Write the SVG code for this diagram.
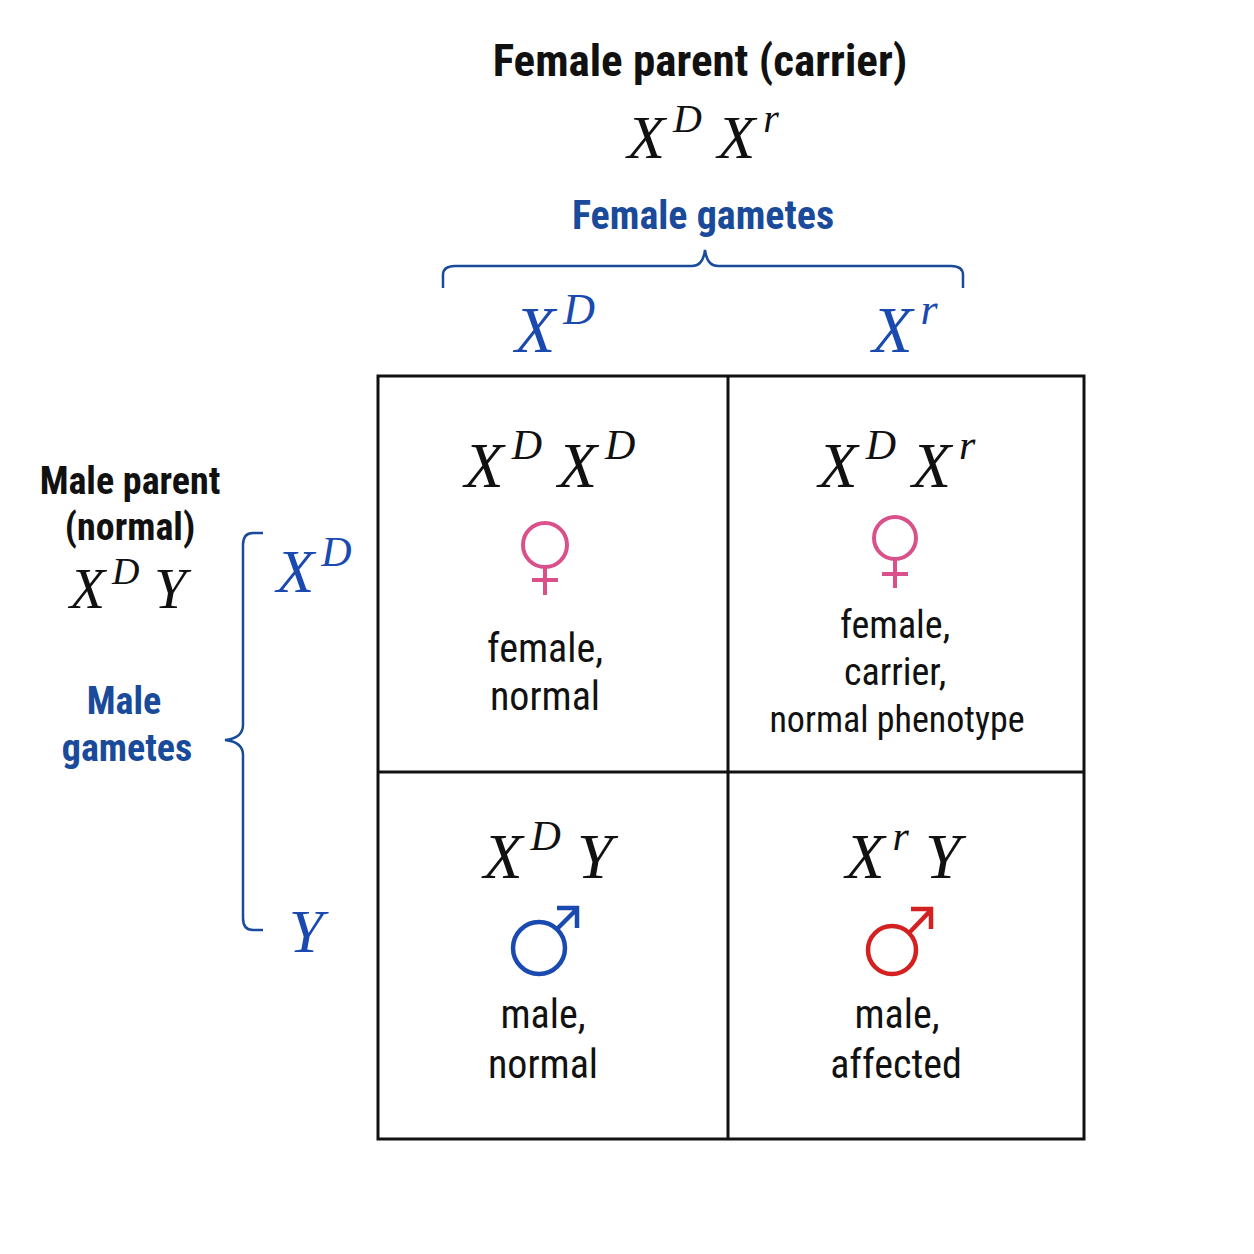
<svg xmlns="http://www.w3.org/2000/svg" width="1254" height="1254" viewBox="0 0 1254 1254">
<style>
.t{font-family:"Liberation Sans Narrow","Roboto Condensed","Liberation Sans",sans-serif;text-anchor:middle;fill:#111}
.b{font-weight:bold}
.blue{fill:#1a4a9a}
.g{font-family:"Liberation Serif",serif;font-style:italic;text-anchor:middle;fill:#111}
.gb{fill:#1a4ab0}
.line{fill:none;stroke:#111;stroke-width:3}
.br{fill:none;stroke:#1a4a9a;stroke-width:2.5}
</style>
<rect width="1254" height="1254" fill="#fff"/>
<g id="female-parent">
<text class="t b" x="700" y="76" font-size="45">Female parent (carrier)</text>
<text class="g" x="703" y="158" font-size="62">X<tspan dx="8" dy="-26" font-size="40">D</tspan><tspan dy="26"> X</tspan><tspan dx="8" dy="-26" font-size="40">r</tspan></text>
</g>
<g id="female-gametes">
<text class="t b blue" x="703" y="229" font-size="40">Female gametes</text>
<path class="br" d="M443,288 V275 Q443,266 455,266 H692 Q703,266 705,250 Q707,266 718,266 H951 Q963,266 963,275 V288"/>
<text class="g gb" x="555" y="352" font-size="66">X<tspan dx="8" dy="-28" font-size="44">D</tspan></text>
<text class="g gb" x="905" y="352" font-size="66">X<tspan dx="8" dy="-28" font-size="44">r</tspan></text>
</g>
<g id="male-parent">
<text class="t b" x="130" y="494" font-size="38">Male parent</text>
<text class="t b" x="130" y="540" font-size="38">(normal)</text>
<text class="g" x="128" y="608" font-size="58">X<tspan dx="7" dy="-24" font-size="38">D</tspan><tspan dy="24"> Y</tspan></text>
</g>
<g id="male-gametes">
<text class="t b blue" x="124" y="714" font-size="38">Male</text>
<text class="t b blue" x="127" y="761" font-size="38">gametes</text>
<path class="br" d="M263,533 H253 Q243,533 243,545 V725 Q243,738 225,740 Q243,742 243,755 V918 Q243,930 253,930 H263"/>
<text class="g gb" x="314" y="592" font-size="62">X<tspan dx="7" dy="-26" font-size="42">D</tspan></text>
<text class="g gb" x="306" y="952" font-size="62">Y</text>
</g>
<g id="grid">
<rect class="line" x="378" y="376" width="706" height="763"/>
<line class="line" x1="728" y1="376" x2="728" y2="1139"/>
<line class="line" x1="378" y1="772" x2="1084" y2="772"/>
</g>
<g id="cell-XDXD">
<text class="g" x="550" y="487" font-size="64">X<tspan dx="8" dy="-28" font-size="42">D</tspan><tspan dy="28"> X</tspan><tspan dx="8" dy="-28" font-size="42">D</tspan></text>
<g fill="none" stroke="#d9508a" stroke-width="4"><circle cx="545" cy="545" r="22"/><path d="M545,567 V595 M532,580 H558"/></g>
<text class="t" x="545" y="662" font-size="40">female,</text>
<text class="t" x="545" y="710" font-size="40">normal</text>
</g>
<g id="cell-XDXr">
<text class="g" x="897" y="487" font-size="64">X<tspan dx="8" dy="-28" font-size="42">D</tspan><tspan dy="28"> X</tspan><tspan dx="8" dy="-28" font-size="42">r</tspan></text>
<g fill="none" stroke="#d9508a" stroke-width="4"><circle cx="895" cy="538" r="21"/><path d="M895,559 V588 M882,574 H908"/></g>
<text class="t" x="895" y="638" font-size="38">female,</text>
<text class="t" x="895" y="685" font-size="38">carrier,</text>
<text class="t" x="897" y="732" font-size="36">normal phenotype</text>
</g>
<g id="cell-XDY">
<text class="g" x="548" y="878" font-size="64">X<tspan dx="8" dy="-28" font-size="42">D</tspan><tspan dy="28"> Y</tspan></text>
<g fill="none" stroke="#1a4ab0" stroke-width="4.5"><circle cx="539" cy="948" r="26"/><path d="M557,929 L577,909 M557,908 H577 V928"/></g>
<text class="t" x="543" y="1028" font-size="40">male,</text>
<text class="t" x="543" y="1078" font-size="40">normal</text>
</g>
<g id="cell-XrY">
<text class="g" x="903" y="878" font-size="64">X<tspan dx="8" dy="-28" font-size="42">r</tspan><tspan dy="28"> Y</tspan></text>
<g fill="none" stroke="#d42020" stroke-width="4.5"><circle cx="892" cy="950" r="24"/><path d="M909,933 L931,910 M911,909 H931 V929"/></g>
<text class="t" x="897" y="1028" font-size="40">male,</text>
<text class="t" x="896" y="1078" font-size="40">affected</text>
</g>
</svg>
